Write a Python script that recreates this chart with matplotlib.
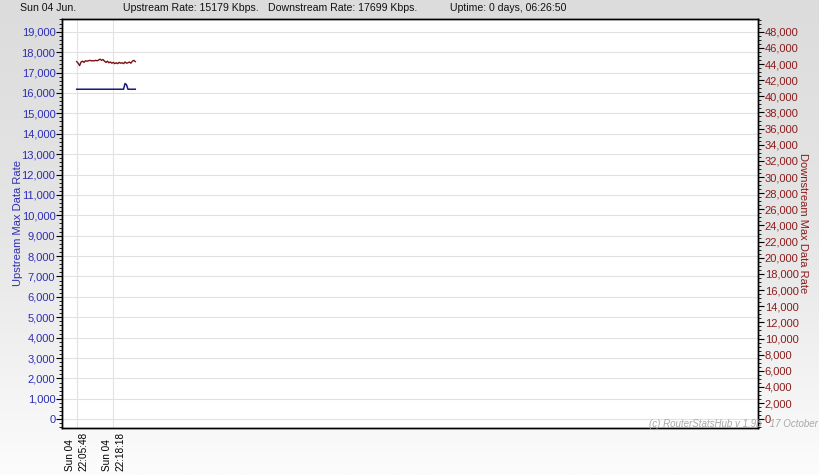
import numpy as np
import pandas as pd
import matplotlib
matplotlib.use("Agg")
import matplotlib.pyplot as plt
from matplotlib.ticker import MultipleLocator, FuncFormatter

plt.rcParams['font.family'] = ['Liberation Sans', 'DejaVu Sans']

# samples every 30 s from 22:05:48
start_time = "2017-06-04 22:05:48"
upstream = [16180] * 33 + [16460, 16400, 16180] + [16180] * 5
downstream = [44300, 44100, 43800, 44250, 44350, 44200, 44400, 44350, 44400, 44450,
              44400, 44400, 44400, 44450, 44400, 44500, 44600, 44450, 44550, 44350,
              44200, 44350, 44150, 44250, 44100, 44200, 44050, 44150, 44050, 44200,
              44100, 44150, 44050, 44250, 44100, 44150, 44250, 44100, 44350, 44450,
              44300]
times = pd.date_range(start_time, periods=len(upstream), freq="30s")
tick_times = pd.to_datetime(["2017-06-04 22:05:48", "2017-06-04 22:18:18"])
tick_labels = ["Sun 04\n22:05:48", "Sun 04\n22:18:18"]

header = ["Sun 04 Jun.", "Upstream Rate: 15179 Kbps.",
          "Downstream Rate: 17699 Kbps.", "Uptime: 0 days, 06:26:50"]

up_col = '#2d2db4'
down_col = '#8b1c1c'

fig = plt.figure(figsize=(8.2, 4.75), dpi=100)

# grey-to-white background
bg = fig.add_axes([0, 0, 1, 1], zorder=-10)
grad = np.linspace(0, 1, 256).reshape(-1, 1)
bg.imshow(grad, aspect='auto', cmap=matplotlib.colors.LinearSegmentedColormap.from_list(
    'bg', ['#dcdcdc', '#e6e6e6', '#fcfcfc']), extent=[0, 1, 0, 1], origin='upper')
bg.axis('off')

ax = fig.add_axes([0.076, 0.0996, 0.848, 0.8604])
ax2 = ax.twinx()

ax.plot(times, upstream, color='#1a1a78', lw=1.1)
ax2.plot(times, downstream, color='#7a1010', lw=1.0)

t0 = pd.Timestamp(start_time)
ax.set_xlim(t0 - pd.Timedelta(minutes=4.9), t0 + pd.Timedelta(minutes=232.4))
ax.set_ylim(-412, 19623)
ax2.set_ylim(-412 * 48000 / 19000, 19623 * 48000 / 19000)

ax.set_xticks(tick_times)
ax.set_xticklabels(tick_labels, rotation=90, fontsize=7.2, va='top', ha='center',
                   multialignment='left', linespacing=1.45)
ax.tick_params(axis='x', length=0, pad=3)

ax.yaxis.set_major_locator(MultipleLocator(1000))
ax.yaxis.set_minor_locator(MultipleLocator(200))
ax.yaxis.set_major_formatter(FuncFormatter(lambda v, p: f"{int(v):,}"))
ax.tick_params(axis='y', which='major', length=4, pad=1, labelsize=8, labelcolor=up_col)
ax.tick_params(axis='y', which='minor', length=2)

ax2.yaxis.set_major_locator(MultipleLocator(2000))
ax2.yaxis.set_minor_locator(MultipleLocator(500))
ax2.yaxis.set_major_formatter(FuncFormatter(lambda v, p: f"{int(v):,}"))
ax2.tick_params(axis='y', which='major', length=4, pad=1, labelsize=8, labelcolor=down_col)
ax2.tick_params(axis='y', which='minor', length=2)

ax.grid(True, color='#e2e2e2', lw=0.8)
ax.set_axisbelow(True)
for a in (ax, ax2):
    for s in a.spines.values():
        s.set_color('black')
        s.set_linewidth(1.0)

ax.set_ylabel("Upstream Max Data Rate", color=up_col, fontsize=8, labelpad=-1)
ax2.set_ylabel("Downstream Max Data Rate", color=down_col, fontsize=8,
               rotation=270, labelpad=7)

header_x = [20, 123, 268, 450]
for xpx, txt in zip(header_x, header):
    fig.text(xpx / 820, 1 - 8 / 475, txt, fontsize=7.6, va='center', ha='left', color='#111111')

fig.text(649 / 820, 1 - 424 / 475, "(c) RouterStatsHub v 1.9b   17 October 2017",
         fontsize=7, style='italic', color='#a8a8a8', va='center', ha='left')

fig.savefig("out.png", dpi=100)
